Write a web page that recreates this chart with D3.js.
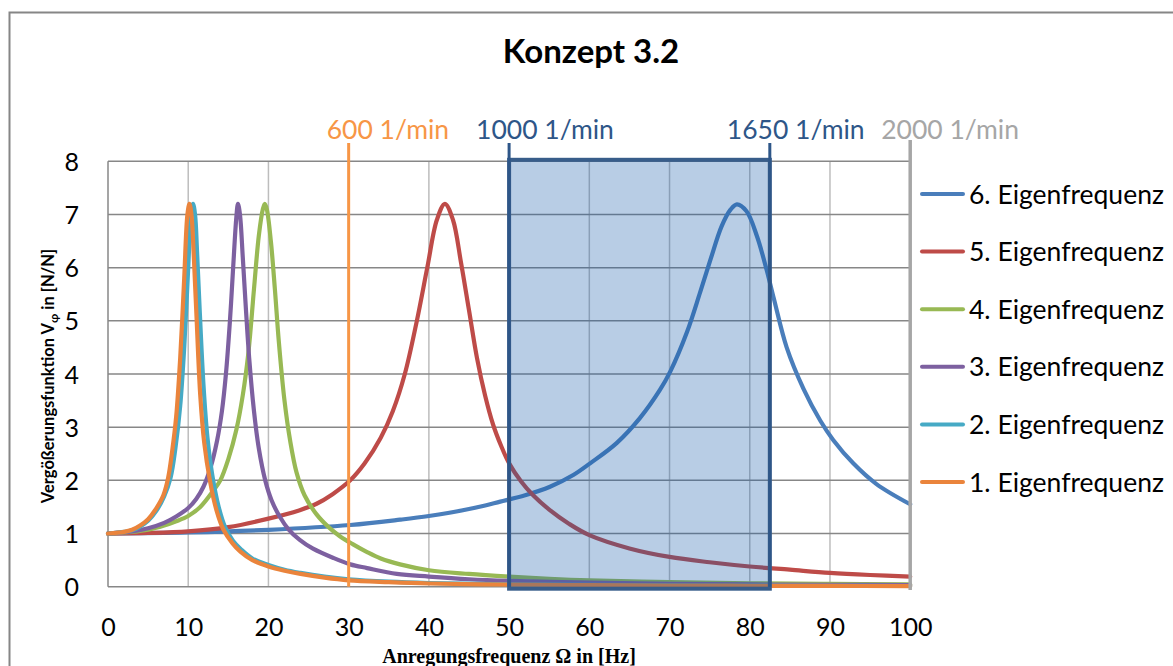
<!DOCTYPE html>
<html>
<head>
<meta charset="utf-8">
<script src="https://cdn.jsdelivr.net/npm/d3@7"></script>
<style>
  html, body { margin: 0; padding: 0; background: #fff; }
  svg { display: block; }
</style>
</head>
<body>
<svg id="chart" width="1173" height="666"></svg>
<script>
// Vergrößerungsfunktion der sechs Eigenfrequenzen, Konzept 3.2
const title = "Konzept 3.2";
const xTicks = [0, 10, 20, 30, 40, 50, 60, 70, 80, 90, 100];
const yTicks = [0, 1, 2, 3, 4, 5, 6, 7, 8];

// [Anregungsfrequenz Hz, Vergrößerung]
const ef1 = [[0,1.0],[2,1.03],[3,1.07],[4,1.15],[5,1.27],[6,1.47],[6.9,1.72],[7.5,2.05],[8,2.55],[8.5,3.2],[9,4.3],[9.5,5.8],[9.9,7.0],[10.15,7.2],[10.4,7.0],[10.7,6.2],[11,5.2],[11.5,3.6],[12,2.7],[12.7,2.0],[13.5,1.45],[14.4,1.07],[15.5,0.82],[16.5,0.66],[18,0.5],[20,0.38],[22,0.3],[24,0.24],[27,0.17],[30,0.12],[35,0.085],[40,0.06],[50,0.04],[60,0.03],[70,0.022],[80,0.018],[90,0.014],[100,0.012]];
const ef2 = [[0,1.0],[2,1.03],[3,1.06],[4,1.13],[5,1.24],[6,1.42],[7,1.7],[7.8,2.05],[8.4,2.6],[9,3.4],[9.5,4.5],[10,6.0],[10.35,7.0],[10.6,7.2],[10.85,7.0],[11.1,6.3],[11.4,5.3],[11.9,3.8],[12.4,2.8],[13,2.1],[13.8,1.5],[14.6,1.12],[15.6,0.86],[16.6,0.7],[18,0.53],[20,0.41],[22,0.32],[24,0.26],[27,0.19],[30,0.14],[35,0.095],[40,0.07],[50,0.045],[60,0.033],[70,0.025],[80,0.02],[90,0.016],[100,0.013]];
const ef3 = [[0,1.0],[3,1.04],[5,1.1],[7,1.2],[8.5,1.32],[10,1.48],[11,1.65],[11.9,1.88],[12.8,2.25],[13.6,2.75],[14.2,3.3],[14.7,4.0],[15.2,5.0],[15.6,6.0],[16,6.95],[16.2,7.2],[16.45,7.0],[16.8,6.2],[17.2,5.2],[17.6,4.3],[18.2,3.3],[18.8,2.6],[19.6,2.0],[20.4,1.62],[21.4,1.32],[22.5,1.08],[23.9,0.88],[25.5,0.72],[28.1,0.54],[30.2,0.42],[32.3,0.35],[36,0.24],[40,0.19],[45,0.14],[50,0.11],[60,0.075],[70,0.055],[80,0.043],[90,0.035],[100,0.03]];
const ef4 = [[0,1.0],[3,1.03],[5,1.07],[7,1.15],[8.5,1.23],[10,1.33],[11.5,1.5],[13.1,1.8],[14,2.0],[15,2.4],[16,2.95],[16.8,3.6],[17.5,4.4],[18.2,5.6],[18.8,6.6],[19.3,7.1],[19.55,7.2],[19.8,7.1],[20.3,6.5],[20.8,5.6],[21.3,4.6],[22,3.5],[22.7,2.75],[23.5,2.15],[24.5,1.72],[26,1.36],[27.5,1.12],[28.9,0.95],[30.5,0.8],[32.3,0.65],[34,0.53],[36.4,0.42],[40,0.31],[45,0.24],[50,0.19],[55,0.15],[60,0.12],[70,0.085],[80,0.065],[90,0.052],[100,0.042]];
const ef5 = [[0,1.0],[5,1.01],[10,1.04],[15,1.12],[20,1.28],[23.9,1.44],[26,1.56],[28,1.74],[30.2,2.0],[32,2.32],[34,2.8],[35.5,3.3],[37,4.0],[38.5,5.0],[39.8,6.0],[41,6.9],[42,7.2],[43,6.9],[44,6.1],[45,5.2],[46,4.3],[47,3.6],[48,3.05],[49,2.65],[50,2.32],[51.5,1.98],[53,1.72],[55,1.45],[57.5,1.18],[60,0.97],[65,0.72],[70,0.56],[75,0.46],[80,0.38],[85,0.32],[90,0.26],[95,0.22],[100,0.19]];
const ef6 = [[0,1.0],[10,1.02],[20,1.07],[30.2,1.16],[36.4,1.26],[40,1.33],[45,1.46],[48.9,1.6],[52,1.72],[55.1,1.88],[58,2.1],[60.1,2.32],[63.4,2.7],[66.3,3.17],[68.8,3.7],[70.1,4.05],[72.2,4.8],[73.8,5.53],[75.1,6.15],[76.5,6.78],[77.6,7.09],[78.4,7.19],[79.6,7.06],[80.9,6.59],[82.1,5.96],[83,5.42],[84.6,4.5],[86.7,3.72],[88.8,3.12],[90.4,2.76],[92.9,2.32],[95.8,1.93],[100,1.55]];

const seriesNames = ["6. Eigenfrequenz", "5. Eigenfrequenz", "4. Eigenfrequenz", "3. Eigenfrequenz", "2. Eigenfrequenz", "1. Eigenfrequenz"];
const seriesData = [ef6, ef5, ef4, ef3, ef2, ef1];
const seriesColors = ["#4A7EBB", "#BE4B48", "#98B954", "#7D60A0", "#46AAC5", "#EA843C"];

// Drehzahlmarken in 1/min
const rpmMarks = [600, 1000, 1650, 2000];
const rpmColors = ["#F79646", "#2E5688", "#2E5688", "#A6A6A6"];
// Betriebsbereich in 1/min
const rangeRpm = [1000, 1650];
// Umrechnung Drehzahl -> Anregungsfrequenz
const rpmPerHz = 20;

const svg = d3.select("#chart");
const font = "Lato, 'Open Sans', sans-serif";

const x = d3.scaleLinear().domain([0, 100]).range([108, 910.2]);
const y = d3.scaleLinear().domain([0, 8]).range([586.7, 161.3]);
const hz = rpm => rpm / rpmPerHz;

// äußerer Rahmen
svg.append("rect")
  .attr("x", 9.5).attr("y", 12.5).attr("width", 1200).attr("height", 700)
  .attr("fill", "#fff").attr("stroke", "#868686").attr("stroke-width", 2);

// Titel
svg.append("text")
  .attr("x", 591).attr("y", 63)
  .attr("text-anchor", "middle")
  .attr("font-family", font).attr("font-weight", "bold").attr("font-size", 33)
  .text(title);

// Gitternetz
const grid = svg.append("g");
grid.selectAll("line.v").data(xTicks.filter(d => d > 0)).join("line")
  .attr("class", "v")
  .attr("x1", d => x(d)).attr("x2", d => x(d))
  .attr("y1", y(8)).attr("y2", y(0))
  .attr("stroke", "#BDBDBD").attr("stroke-width", 1.5);
grid.selectAll("line.h").data(yTicks).join("line")
  .attr("class", "h")
  .attr("x1", x(0)).attr("x2", x(100))
  .attr("y1", d => y(d)).attr("y2", d => y(d))
  .attr("stroke", "#878787").attr("stroke-width", 1.5);
grid.append("line")
  .attr("x1", x(0)).attr("x2", x(0)).attr("y1", y(8)).attr("y2", y(0))
  .attr("stroke", "#878787").attr("stroke-width", 1.5);

// Achsen
const yAxis = svg.append("g").attr("transform", `translate(${x(0) - 29},0)`)
  .call(d3.axisLeft(y).tickValues(yTicks).tickSize(0).tickPadding(0));
const xAxis = svg.append("g").attr("transform", `translate(0,${y(0)})`)
  .call(d3.axisBottom(x).tickValues(xTicks).tickSize(0).tickPadding(0));
[xAxis, yAxis].forEach(a => {
  a.select(".domain").remove();
  a.selectAll("text").attr("font-family", font).attr("font-size", 25).attr("fill", "#000");
});
yAxis.selectAll("text").attr("dy", "0.36em");
xAxis.selectAll("text").attr("dy", null).attr("y", 49.5);

// Kurven
const line = d3.line().x(d => x(d[0])).y(d => y(d[1])).curve(d3.curveCatmullRom.alpha(0.5));
svg.append("g").selectAll("path").data(seriesData).join("path")
  .attr("d", line)
  .attr("fill", "none")
  .attr("stroke", (d, i) => seriesColors[i])
  .attr("stroke-width", 4.2)
  .attr("stroke-linejoin", "round")
  .attr("stroke-linecap", "round");

// Betriebsbereich 1000 - 1650 1/min
svg.append("rect")
  .attr("x", x(hz(rangeRpm[0]))).attr("y", y(8) - 1.5)
  .attr("width", x(hz(rangeRpm[1])) - x(hz(rangeRpm[0]))).attr("height", y(0) - y(8) + 3.5)
  .attr("fill", "rgb(20,90,170)").attr("fill-opacity", 0.3)
  .attr("stroke", "#385D8A").attr("stroke-width", 4);

// Drehzahlmarken
const labelShift = [-22, -33, -43, -29];
const marks = svg.append("g");
rpmMarks.forEach((rpm, i) => {
  const xm = x(hz(rpm));
  marks.append("line")
    .attr("x1", xm).attr("x2", xm)
    .attr("y1", i === 3 ? 140 : 143).attr("y2", i === 3 ? 590 : y(0))
    .attr("stroke", rpmColors[i]).attr("stroke-width", i === 3 ? 3.5 : 3);
  marks.append("text")
    .attr("x", xm + labelShift[i]).attr("y", 139)
    .attr("font-family", font).attr("font-size", 26.5)
    .attr("fill", rpmColors[i])
    .text(rpm + " 1/min");
});

// Legende
const legend = svg.append("g");
seriesNames.forEach((name, i) => {
  const ly = 194 + i * 57.6;
  legend.append("line")
    .attr("x1", 922).attr("x2", 963).attr("y1", ly).attr("y2", ly)
    .attr("stroke", seriesColors[i]).attr("stroke-width", 4).attr("stroke-linecap", "round");
  legend.append("text")
    .attr("x", 969).attr("y", ly + 9.5)
    .attr("font-family", font).attr("font-size", 26.5).attr("fill", "#000")
    .text(name);
});

// Achsentitel
const yTitle = svg.append("text")
  .attr("transform", `translate(54,376) rotate(-90)`)
  .attr("text-anchor", "middle")
  .attr("font-family", font).attr("font-weight", "bold").attr("font-size", 16.5)
  .attr("fill", "#000");
yTitle.append("tspan").text("Vergößerungsfunktion V");
yTitle.append("tspan").attr("font-size", 12).attr("dy", 4).text("φ");
yTitle.append("tspan").attr("dy", -4).text(" in [N/N]");

svg.append("text")
  .attr("x", 509).attr("y", 663)
  .attr("text-anchor", "middle")
  .attr("font-family", "'Liberation Serif', serif").attr("font-weight", "bold").attr("font-size", 20)
  .attr("fill", "#000")
  .text("Anregungsfrequenz Ω in [Hz]");
</script>
</body>
</html>
